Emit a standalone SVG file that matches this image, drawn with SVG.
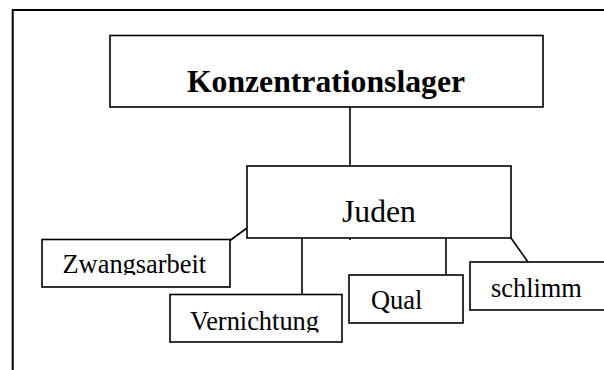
<svg xmlns="http://www.w3.org/2000/svg" width="604" height="370" viewBox="0 0 604 370">
  <style>
    .frame { fill: none; stroke: #000; stroke-width: 2; }
    .box { fill: #fff; stroke: #000; stroke-width: 1.6; }
    .link { fill: none; stroke: #000; stroke-width: 1.6; }
    .lbl { font-family: "Liberation Serif", "Times New Roman", serif; fill: #000; }
    .title { font-size: 31.7px; font-weight: bold; text-anchor: middle; }
    .main { font-size: 31.7px; text-anchor: middle; }
    .sub { font-size: 26.4px; }
  </style>
  <defs>
    <!-- text areas of the small boxes clip descenders like a text frame -->
    <clipPath id="clipZw"><rect x="42" y="240" width="188" height="35"/></clipPath>
    <clipPath id="clipVe"><rect x="170" y="295" width="172" height="37.5"/></clipPath>
  </defs>

  <!-- page frame running off the right and bottom edges -->
  <rect class="frame" x="12.7" y="10" width="620" height="400"/>

  <g id="connectors">
    <line class="link" x1="350" y1="107" x2="350" y2="240"/>
    <line class="link" x1="230" y1="240.5" x2="247" y2="228"/>
    <line class="link" x1="302" y1="238" x2="302" y2="294"/>
    <line class="link" x1="446" y1="238" x2="446" y2="275"/>
    <line class="link" x1="511" y1="238" x2="528" y2="262"/>
  </g>

  <g id="konzentrationslager">
    <rect class="box" x="110" y="35.5" width="433" height="71.5"/>
    <text class="lbl title" x="326" y="92">Konzentrationslager</text>
  </g>

  <g id="juden">
    <rect class="box" x="247" y="166" width="264" height="72"/>
    <text class="lbl main" x="379" y="222">Juden</text>
  </g>

  <g id="zwangsarbeit">
    <rect class="box" x="42" y="239.5" width="188" height="47.5"/>
    <text class="lbl sub" x="62.5" y="273" clip-path="url(#clipZw)">Zwangsarbeit</text>
  </g>

  <g id="vernichtung">
    <rect class="box" x="170" y="294.5" width="172" height="47.5"/>
    <text class="lbl sub" x="190" y="330" clip-path="url(#clipVe)">Vernichtung</text>
  </g>

  <g id="qual">
    <rect class="box" x="349" y="275" width="114" height="48"/>
    <text class="lbl sub" x="371" y="309">Qual</text>
  </g>

  <g id="schlimm">
    <rect class="box" x="470" y="262" width="150" height="48"/>
    <text class="lbl sub" x="491" y="297">schlimm</text>
  </g>
</svg>
